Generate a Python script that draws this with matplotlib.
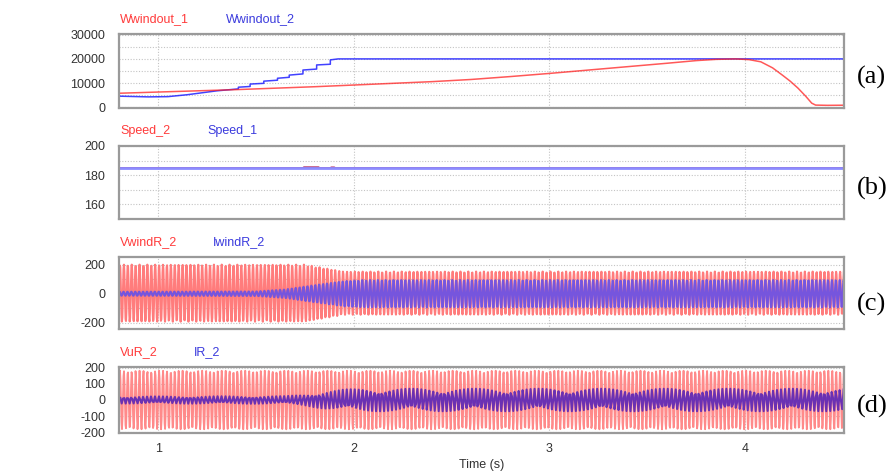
import numpy as np
import matplotlib.pyplot as plt

# ---------- data ----------
T_START, T_END = 0.80, 4.505
F_GRID = 50.0  # Hz, carrier of the ac quantities

# (a) wind power outputs (W)
wind1_t = [0.80, 1.00, 1.20, 1.40, 1.60, 1.80, 2.00, 2.20, 2.40, 2.60, 2.80, 3.00, 3.20, 3.40,
           3.60, 3.75, 3.85, 3.95, 4.02, 4.08, 4.14, 4.19, 4.23, 4.27, 4.31, 4.34, 4.36, 4.42, 4.50]
wind1_p = [5800, 6300, 6800, 7300, 7900, 8500, 9200, 9900, 10600, 11500, 12700, 14000, 15400, 16800,
           18200, 19300, 19800, 20000, 19700, 18800, 16300, 13300, 10800, 7900, 4500, 1700, 900, 800, 850]

wind2_t = [0.80, 0.95, 1.05, 1.15, 1.30, 1.41, 1.41, 1.47, 1.47, 1.54, 1.54, 1.61, 1.61,
           1.67, 1.67, 1.74, 1.74, 1.81, 1.81, 1.88, 1.88, 1.92, 4.50]
wind2_p = [4600, 4300, 4400, 5200, 6800, 7600, 8300, 8600, 9600, 9900, 10800, 11200, 12000,
           12400, 13300, 13800, 15400, 15800, 17500, 17800, 19600, 20000, 20000]

# (b) speeds
speed1_t = [0.80, 4.50]
speed1 = [185, 185]
speed2_t = [0.80, 1.74, 1.745, 1.82, 1.825, 1.88, 1.885, 1.90, 1.905, 4.50]
speed2 = [185, 185, 185.5, 185.5, 185, 185, 185.4, 185.4, 185, 185]

# (c) wind-side voltage / current envelopes (peak values)
vwind_env_t = [0.80, 1.75, 1.95, 4.50]
vwind_amp = [198, 198, 150, 150]
iwind_env_t = [0.80, 1.50, 1.65, 1.80, 1.95, 2.05, 4.50]
iwind_amp = [14, 16, 30, 60, 88, 95, 95]

# (d) grid-side voltage / current envelopes (peak values)
vu_env_t = [0.80, 4.50]
vu_amp = [182, 182]
ir_env_t = [0.80, 1.65, 1.75, 1.85, 1.95, 2.05, 4.50]
ir_amp = [22, 24, 35, 55, 65, 70, 70]

# simulation print steps of the exported traces
STEP_C = 0.0021
STEP_VU = (1.0 / 8 + 0.003) / F_GRID
STEP_IR = (1.0 / 3 + 0.007) / F_GRID

RED = '#ff2020'
BLUE = '#2020ff'
LABEL_RED = '#ff3b3b'
LABEL_BLUE = '#3b3bdd'
GRID_KW = dict(color='#c4c4c4', linestyle=(0, (1, 1.5)), linewidth=0.8)


def wave(step, env_t, env_a, phase=0.0):
    t = np.arange(T_START, T_END, step)
    return t, np.interp(t, env_t, env_a) * np.sin(2 * np.pi * F_GRID * t + phase)


W, H = 896, 474
plt.rcParams['font.family'] = ['Liberation Sans', 'DejaVu Sans']
plt.rcParams['axes.unicode_minus'] = False
fig = plt.figure(figsize=(W / 100, H / 100), dpi=100)

# axes boxes in pixels: (top, bottom)
boxes = [(34, 108), (146, 219), (257, 329), (367, 433)]
left, right = 119, 844
axes = []
for top, bot in boxes:
    ax = fig.add_axes([left / W, 1 - bot / H, (right - left) / W, (bot - top) / H])
    ax.set_xlim(T_START, T_END)
    ax.set_xticks([1, 2, 3, 4])
    ax.grid(True, **GRID_KW)
    ax.set_axisbelow(True)
    ax.tick_params(length=0, labelsize=9, colors='#333333', pad=10)
    ax.tick_params(axis='x', pad=7)
    for s in ax.spines.values():
        s.set_color('#9a9a9a')
        s.set_linewidth(1.6)
    axes.append(ax)

ax_a, ax_b, ax_c, ax_d = axes
for ax in axes[:3]:
    ax.tick_params(axis='x', labelbottom=False)

# (a)
ax_a.plot(wind2_t, wind2_p, color=BLUE, lw=1.1, alpha=0.85)
ax_a.plot(wind1_t, wind1_p, color=RED, lw=1.1, alpha=0.75)
ax_a.set_ylim(-300, 30300)
ax_a.set_yticks([0, 10000, 20000, 30000])
ax_a.set_yticks(np.arange(5000, 30000, 10000), minor=True)
ax_a.grid(True, which='minor', axis='y', **GRID_KW)
ax_a.tick_params(which='minor', length=0)

# (b)
ax_b.plot(speed2_t, speed2, color='#b02a60', lw=1.2)
ax_b.plot(speed1_t, speed1, color='#8c8cff', lw=2.0)
ax_b.set_ylim(150, 200)
ax_b.set_yticks([160, 180, 200])
ax_b.set_yticks([170, 190], minor=True)
ax_b.grid(True, which='minor', axis='y', **GRID_KW)
ax_b.tick_params(which='minor', length=0)

# (c)
tc, vc = wave(STEP_C, vwind_env_t, vwind_amp)
tc, ic = wave(STEP_C, iwind_env_t, iwind_amp, phase=0.6)
ax_c.plot(tc, vc + 4, color='#ff7c7c', lw=1.5)
ax_c.plot(tc, ic, color='#4848ff', lw=1.5, alpha=0.75)
ax_c.set_ylim(-245, 255)
ax_c.set_yticks([-200, 0, 200])
ax_c.set_yticks([-100, 100], minor=True)
ax_c.grid(True, which='minor', axis='y', **GRID_KW)
ax_c.tick_params(which='minor', length=0)

# (d)
td, vd = wave(STEP_VU, vu_env_t, vu_amp)
ti, idd = wave(STEP_IR, ir_env_t, ir_amp, phase=0.3)
ax_d.plot(td, vd, color='#ff8a8a', lw=1.3)
ax_d.plot(ti, idd, color='#3a12c0', lw=1.5, alpha=0.75)
ax_d.set_ylim(-205, 205)
ax_d.set_yticks([-200, -100, 0, 100, 200])
ax_d.set_xlabel('Time (s)', fontsize=9, color='#333333', labelpad=3)

# trace names above each panel (pixel offsets from the axes' top-left corner)
names = [('Wwindout_1', 'Wwindout_2', 107),
         ('Speed_2', 'Speed_1', 88),
         ('VwindR_2', 'IwindR_2', 94),
         ('VuR_2', 'IR_2', 75)]
for ax, (n1, n2, dx) in zip(axes, names):
    ax.annotate(n1, xy=(0, 1), xycoords='axes fraction', xytext=(1, 15),
                textcoords='offset pixels', va='center', ha='left', fontsize=9, color=LABEL_RED)
    ax.annotate(n2, xy=(0, 1), xycoords='axes fraction', xytext=(dx, 15),
                textcoords='offset pixels', va='center', ha='left', fontsize=9, color=LABEL_BLUE)

# panel tags
for tag, y in zip(['(a)', '(b)', '(c)', '(d)'], [77, 188, 304, 406]):
    fig.text(857 / W, 1 - y / H, tag, fontsize=19, family='Liberation Serif',
             va='center', ha='left', color='black')

fig.savefig('out.png', dpi=100, facecolor='white')
